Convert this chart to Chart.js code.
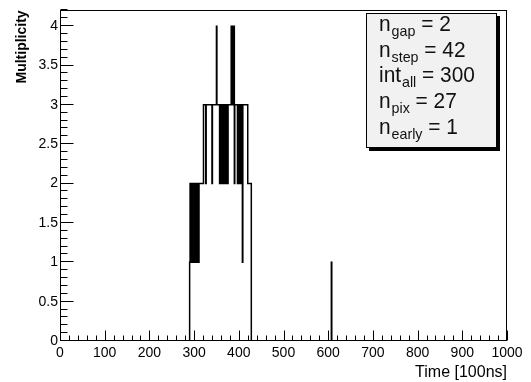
<!DOCTYPE html>
<html>
<head>
<meta charset="utf-8">
<script src="https://cdn.jsdelivr.net/npm/chart.js@4"></script>
<style>
  html, body { margin: 0; padding: 0; background: #fff; }
  #wrap { width: 531px; height: 382px; position: relative; }
</style>
</head>
<body>
<div id="wrap"><canvas id="multChart"></canvas></div>
<script>
// --- multiplicity vs time (ROOT style histogram) ---

// one value per 100ns bin, starting at firstBin
const firstBin = 290;
const multiplicity = [
  1, 2, 1, 2, 1, 2, 1, 2, 1, 2, 1, 2, 1, 2, 1, 2, 1, 2, 1, 2, 1, 2, // 290-311
  2, 2, 2, 2, 2, 2, 2, 2, 2,                                      // 312-320
  3, 3, 3, 3, 3,                                                  // 321-325
  2,
  3, 3, 3, 3, 3, 3, 3, 3, 3, 3, 3, 3, 3,                          // 327-339
  2,
  3, 3, 3, 3, 3, 3, 3, 3, 3,                                      // 341-349
  4,
  3, 3, 3, 3, 3, 3,                                               // 351-356
  2, 3, 2, 3, 2, 3, 2, 3, 2, 3, 2, 3, 2, 3, 2, 3, 2, 3, 2,        // 357-375
  3, 3, 3, 3, 3, 3, 3,                                            // 376-382
  4, 3, 4, 3, 4, 3, 4,                                            // 383-389
  2,
  3, 3, 3, 3, 3, 3,                                               // 391-396
  2, 3, 2, 3, 2, 3, 2, 3, 2, 3,                                   // 397-406
  3,
  1,
  3, 3, 3, 3, 3, 3, 3, 3, 3, 3, 3,                                // 409-419
  2, 2, 2, 2, 2, 2, 2, 2                                          // 420-427
];
// the single late hit
const lateBin = 607;
const lateCount = 1;

const xTicks = [0, 100, 200, 300, 400, 500, 600, 700, 800, 900, 1000];
const yTicks = [0, 0.5, 1, 1.5, 2, 2.5, 3, 3.5, 4];
const xTitle = 'Time [100ns]';
const yTitle = 'Multiplicity';

// stats box lines: name, subscript, value
const statNames = ['n', 'n', 'int', 'n', 'n'];
const statSubs = ['gap', 'step', 'all', 'pix', 'early'];
const statValues = [2, 42, 300, 27, 1];

// step outline points (value holds until the next point)
const outline = [{ x: 0, y: 0 }];
multiplicity.forEach((m, i) => outline.push({ x: firstBin + i, y: m }));
outline.push({ x: firstBin + multiplicity.length, y: 0 });
outline.push({ x: lateBin, y: lateCount });
outline.push({ x: lateBin + 1, y: 0 });
outline.push({ x: 1000, y: 0 });

const FONT = '"Liberation Sans", Arial, sans-serif';

// frame, inward ticks and stats box, like ROOT draws them
const rootFrame = {
    id: 'rootFrame',
    afterDatasetsDraw(chart) {
        const { ctx, chartArea: a, scales: { x, y } } = chart;
        ctx.save();
        ctx.strokeStyle = '#000';
        ctx.lineWidth = 1;
        const L = Math.round(a.left) + 0.5, R = Math.round(a.right) - 0.5;
        const T = Math.round(a.top) + 0.5, B = Math.round(a.bottom) - 0.5;
        ctx.strokeRect(L, T, R - L, B - T);

        ctx.beginPath();
        for (let v = 0; v <= 1000; v += 20) {
            const px = Math.round(x.getPixelForValue(v)) + 0.5;
            const len = v % 100 === 0 ? 10 : 5;
            ctx.moveTo(px, B);
            ctx.lineTo(px, B - len);
        }
        for (let k = 0; k <= 42; k++) {
            const py = Math.round(y.getPixelForValue(k / 10)) - 0.5;
            const len = k % 5 === 0 ? 13 : 7;
            ctx.moveTo(L, py);
            ctx.lineTo(L + len, py);
        }
        ctx.stroke();

        // stats box with shadow
        const bx = 366, by = 13, bw = 131, bh = 135;
        ctx.fillStyle = '#000';
        ctx.fillRect(bx + 3, by + 3, bw, bh);
        ctx.fillStyle = '#f1f1f1';
        ctx.fillRect(bx, by, bw, bh);
        ctx.strokeRect(bx + 0.5, by + 0.5, bw - 1, bh - 1);

        ctx.fillStyle = '#111';
        ctx.textBaseline = 'alphabetic';
        const sx = 0.95;
        for (let i = 0; i < statNames.length; i++) {
            const base = 31 + i * 25.7;
            ctx.save();
            ctx.translate(379, base);
            ctx.scale(sx, 1);
            ctx.font = '22px ' + FONT;
            ctx.fillText(statNames[i], 0, 0);
            let w = ctx.measureText(statNames[i]).width;
            ctx.font = '15px ' + FONT;
            ctx.fillText(statSubs[i], w + 1, 5);
            w += 1 + ctx.measureText(statSubs[i]).width;
            ctx.font = '22px ' + FONT;
            ctx.fillText(' = ' + statValues[i], w, 0);
            ctx.restore();
        }
        ctx.restore();
    }
};

const ctx = document.getElementById('multChart').getContext('2d');
new Chart(ctx, {
    type: 'line',
    data: {
        datasets: [{
            data: outline,
            stepped: true,
            borderColor: '#000',
            borderWidth: 1.5,
            pointRadius: 0,
            fill: false
        }]
    },
    options: {
        responsive: true,
        maintainAspectRatio: false,
        animation: false,
        layout: { padding: { top: 5, right: 24, left: 0, bottom: 0 } },
        plugins: {
            legend: { display: false },
            tooltip: { enabled: false }
        },
        scales: {
            x: {
                type: 'linear',
                min: 0,
                max: 1000,
                afterBuildTicks: s => { s.ticks = xTicks.map(v => ({ value: v })); },
                afterFit: s => { s.height = 41; },
                grid: { display: false, drawTicks: false },
                border: { display: false },
                ticks: {
                    autoSkip: false,
                    maxRotation: 0,
                    padding: 4,
                    color: '#000',
                    font: { family: FONT, size: 14 },
                    callback: v => String(v)
                },
                title: {
                    display: true,
                    text: xTitle,
                    align: 'end',
                    color: '#000',
                    font: { family: FONT, size: 16 },
                    padding: { top: 0, bottom: 0 }
                }
            },
            y: {
                min: 0,
                max: 4.2,
                afterBuildTicks: s => { s.ticks = yTicks.map(v => ({ value: v })); },
                afterFit: s => { s.width = 60; },
                grid: { display: false, drawTicks: false },
                border: { display: false },
                ticks: {
                    autoSkip: false,
                    padding: 2,
                    color: '#000',
                    font: { family: FONT, size: 14 },
                    callback: v => String(+v.toFixed(1))
                },
                title: {
                    display: true,
                    text: yTitle,
                    align: 'end',
                    color: '#000',
                    font: { family: FONT, size: 14, weight: 'bold' },
                    padding: { top: 14, bottom: 0 }
                }
            }
        }
    },
    plugins: [rootFrame]
});
</script>
</body>
</html>
